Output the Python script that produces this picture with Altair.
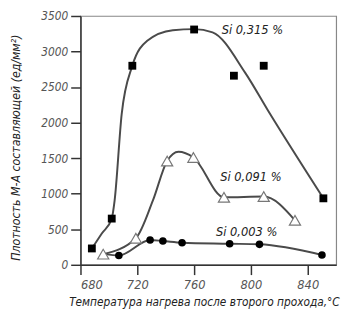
import altair as alt
import pandas as pd

# Measured points
sq_x = [688, 702, 716.5, 760, 788, 809, 851]
sq_y = [230, 650, 2800, 3310, 2660, 2800, 935]
tri_x = [696, 719, 741, 759.5, 781, 809, 831]
tri_y = [150, 374, 1460, 1510, 950, 960, 626]
cir_x = [707, 729, 738, 751.5, 785, 806, 850]
cir_y = [131, 348, 335, 311, 297, 288, 139]

# Fitted curves
sq_fit_x = [688, 695, 702, 704, 709, 716.5, 727, 745, 760, 773, 796, 812, 851]
sq_fit_y = [230, 440, 650, 900, 2120, 2800, 3150, 3300, 3315, 3270, 2700, 2170, 935]
tri_fit_x = [696, 719, 731, 741, 749, 759.5, 781, 809, 831]
tri_fit_y = [150, 374, 905, 1460, 1590, 1510, 950, 960, 626]
cir_fit_x = [697, 707, 729, 738, 751.5, 785, 806, 850]
cir_fit_y = [150, 131, 348, 335, 311, 297, 288, 139]

x_ticks = [680, 720, 760, 800, 840]
y_ticks = [0, 500, 1000, 1500, 2000, 2500, 3000, 3500]

lab_text = ["Si 0,315 %", "Si 0,091 %", "Si 0,003 %"]
lab_x = [801, 800, 797]
lab_y = [3300, 1240, 460]

FONT = "'Liberation Sans Narrow', 'DejaVu Sans Condensed', 'Liberation Sans', sans-serif"
LINE = "#4a4a4a"

def fit_df(xs, ys, name):
    return pd.DataFrame({"t": xs, "v": ys, "s": name})

fits = pd.concat([
    fit_df(sq_fit_x, sq_fit_y, "sq"),
    fit_df(tri_fit_x, tri_fit_y, "tri"),
    fit_df(cir_fit_x, cir_fit_y, "cir"),
])

xs = alt.Scale(domain=[680, 860], nice=False)
ys = alt.Scale(domain=[0, 3500], nice=False)

xax = alt.Axis(values=x_ticks, grid=False, tickSize=10, format="d",
               labelOverlap=False,
               labelPadding=4, labelFont=FONT, labelFontSize=13, labelFontStyle="italic",
               labelColor="#555", domainColor="#333", tickColor="#333", domainWidth=1.5,
               tickWidth=1.5, title="Температура нагрева после второго прохода,°C",
               titleFont=FONT, titleFontSize=12, titleFontStyle="italic", titleFontWeight="normal",
               titleColor="#222", titleY=38, titleX=126, titleAlign="center", titleBaseline="middle")
yax = alt.Axis(values=y_ticks, grid=False, tickSize=10,
               format="d", labelOverlap=False, labelSeparation=0,
               labelPadding=3, labelFont=FONT, labelFontSize=12, labelFontStyle="italic",
               labelColor="#555", domainColor="#333", tickColor="#333", domainWidth=1.5,
               tickWidth=1.5, title="Плотность М-А составляющей (ед/мм²)",
               titleFont=FONT, titleFontSize=12.5, titleFontStyle="italic", titleFontWeight="normal",
               titleColor="#222", titleX=-66, titleY=134, titleBaseline="middle")

X = alt.X("t:Q", scale=xs, axis=xax)
Y = alt.Y("v:Q", scale=ys, axis=yax)

lines = alt.Chart(fits).mark_line(interpolate="monotone", color=LINE, strokeWidth=2).encode(
    x=X, y=Y, detail="s:N",
)

sq = alt.Chart(pd.DataFrame({"t": sq_x, "v": sq_y})).mark_point(
    shape="square", filled=True, color="#000", size=64, opacity=1).encode(x=X, y=Y)
tri = alt.Chart(pd.DataFrame({"t": tri_x, "v": tri_y})).mark_point(
    shape="triangle-up", filled=True, fill="white", stroke="#777", strokeWidth=1.2,
    size=130, opacity=1).encode(x=X, y=Y)
cir = alt.Chart(pd.DataFrame({"t": cir_x, "v": cir_y})).mark_point(
    shape="circle", filled=True, color="#000", size=60, opacity=1).encode(x=X, y=Y)

labels = alt.Chart(pd.DataFrame({"t": lab_x, "v": lab_y, "txt": lab_text})).mark_text(
    font=FONT, fontSize=13, fontStyle="italic", color="#222", align="center", baseline="middle"
).encode(x=X, y=Y, text="txt:N")

chart = alt.layer(lines, sq, tri, cir, labels).properties(
    width=261, height=254,
    autosize=alt.AutoSizeParams(type="none"),
    padding={"left": 74, "top": 5, "right": 8, "bottom": 44},
).configure_view(stroke="#888", strokeWidth=1.2)

chart.save("out.html", embed_options={"renderer": "svg", "actions": False})
